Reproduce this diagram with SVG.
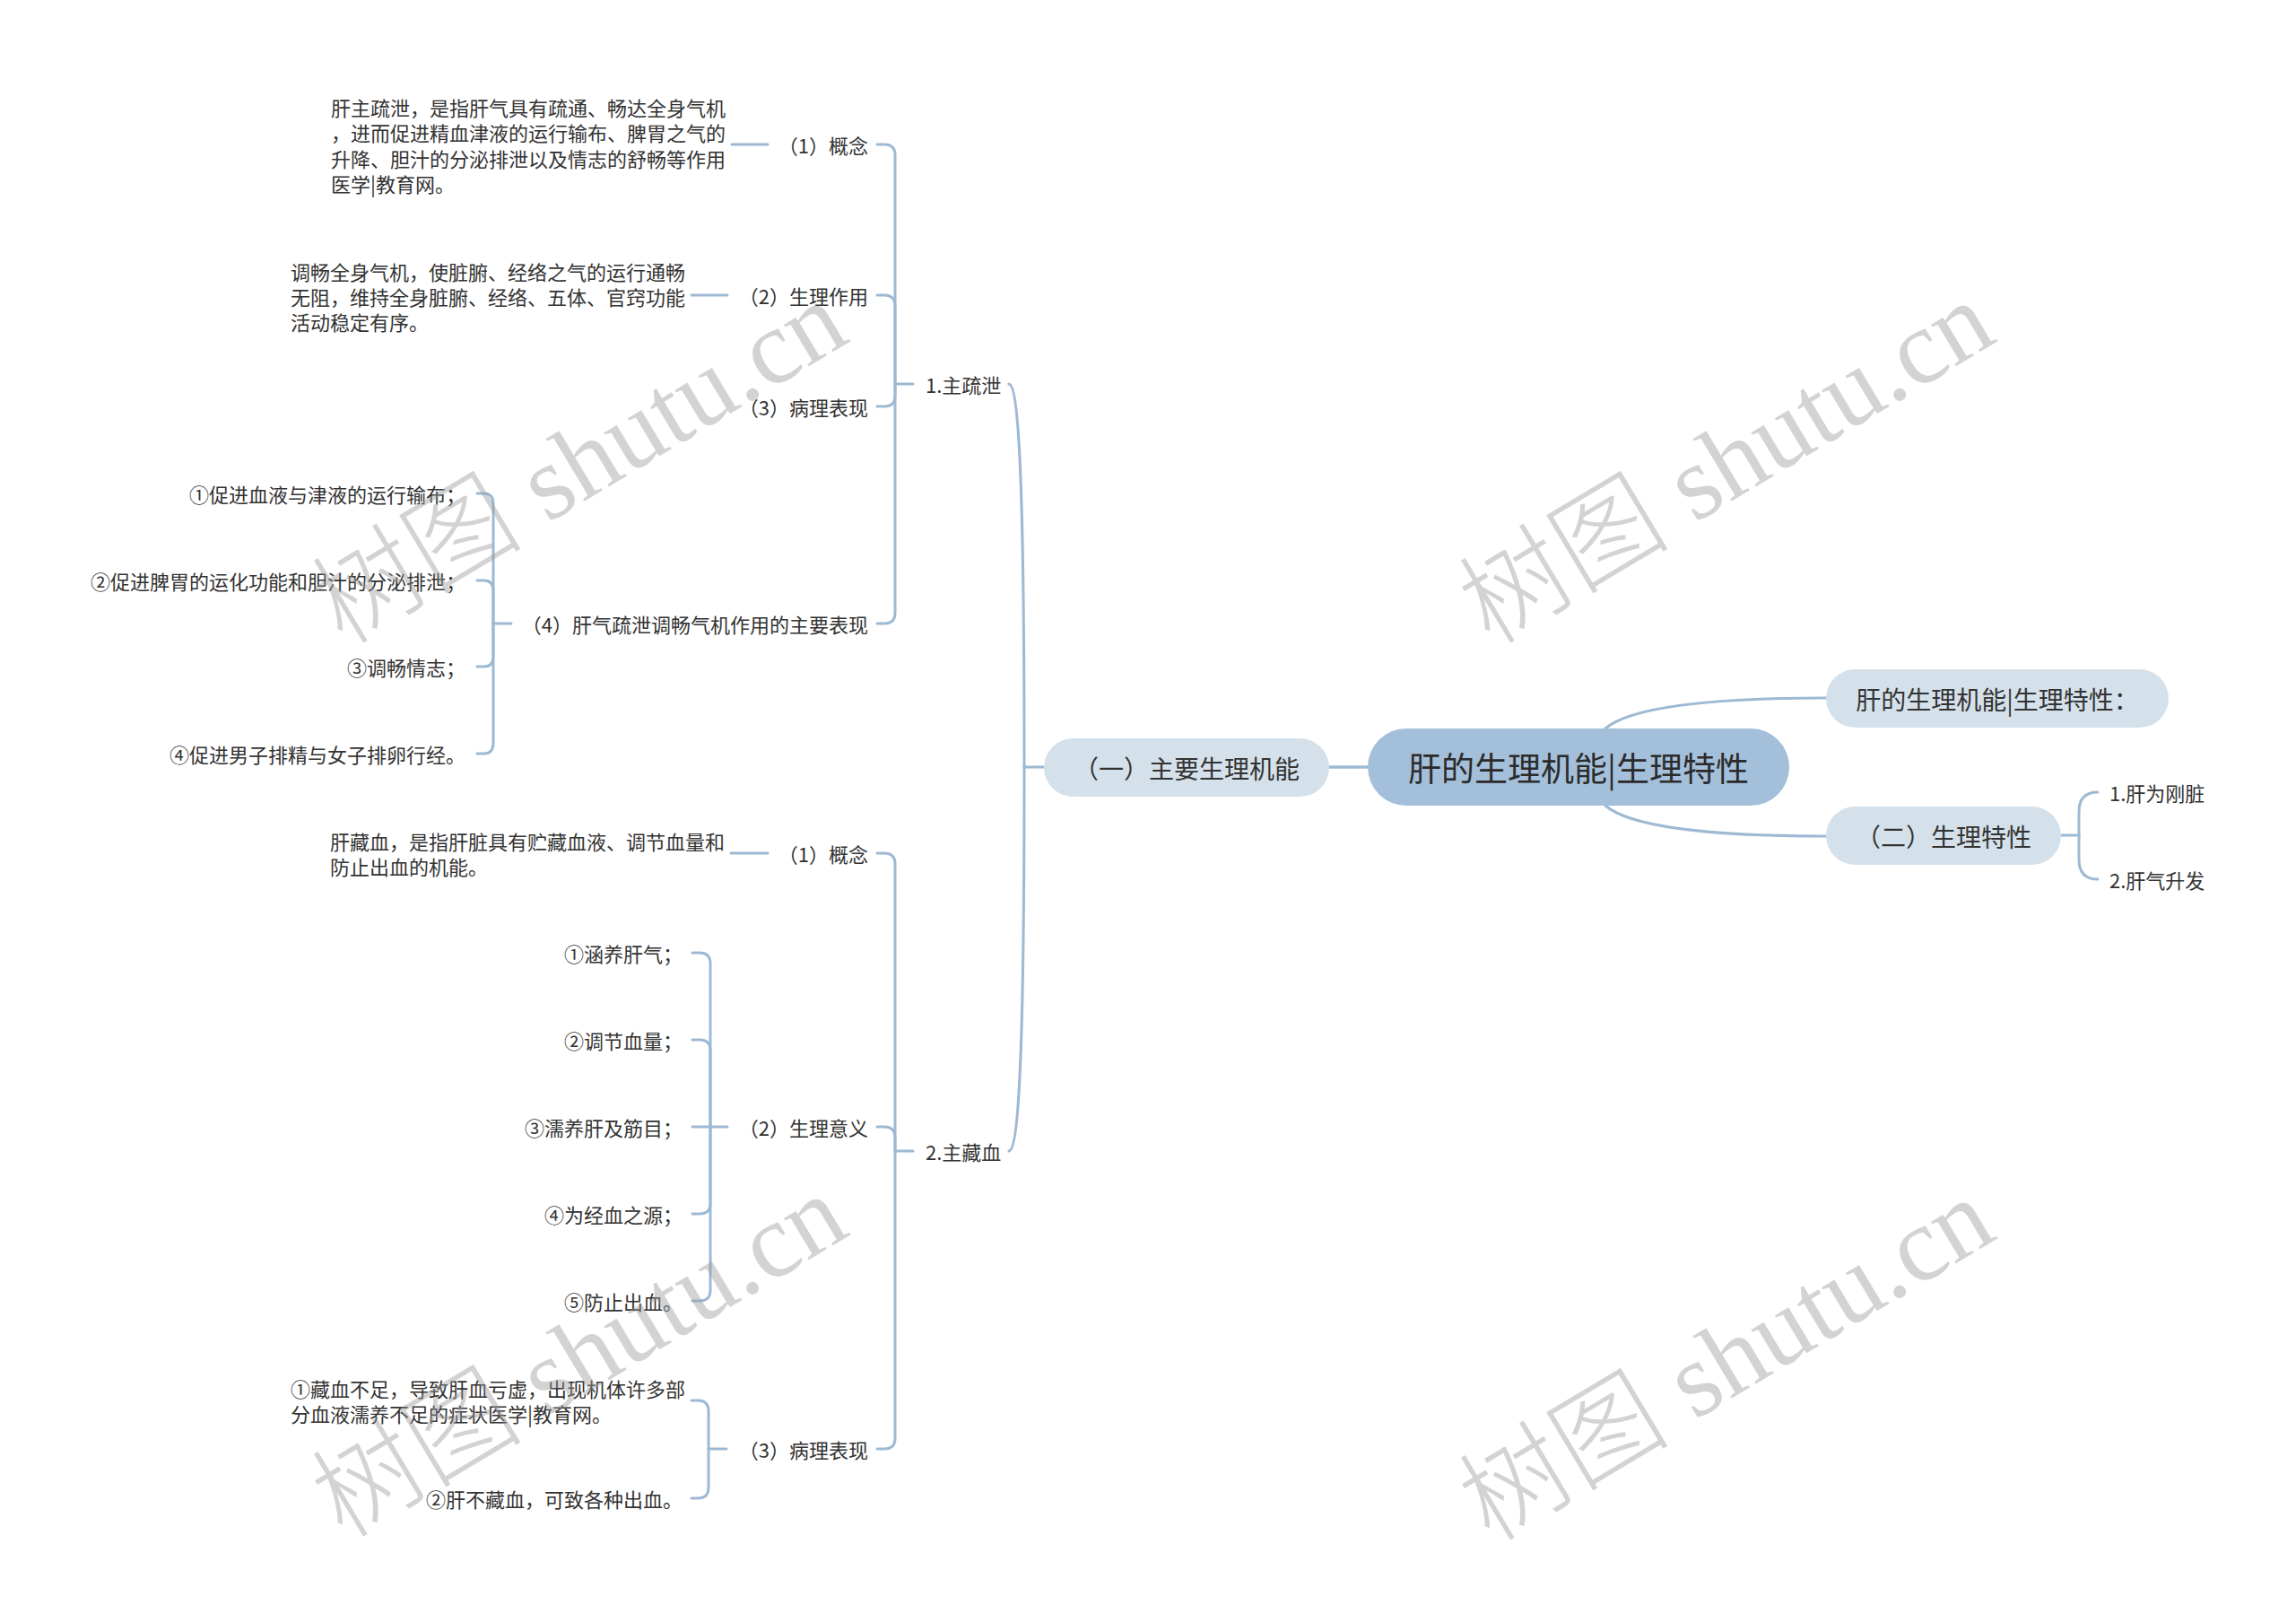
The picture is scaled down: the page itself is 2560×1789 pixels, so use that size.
<svg xmlns="http://www.w3.org/2000/svg" width="2560" height="1789" viewBox="0 0 2560 1789">
<style>
text { font-family: "Noto Sans CJK SC", "Noto Sans", sans-serif; fill: #333; dominant-baseline: central; }
.t22 { font-size: 22px; }
.t28 { font-size: 28px; }
.troot { font-size: 37px; fill: #2b2b2b; }
.l { fill: none; stroke: #9db9d3; stroke-width: 3; stroke-linecap: round; }
.lm { fill: none; stroke: #9db9d3; stroke-width: 3.5; }
.n1 { fill: #a3bfd9; }
.n2 { fill: #d5e1ea; }
.wm { font-family: "Liberation Serif", "Noto Sans CJK SC", serif; font-size: 118px; font-weight: 300; fill: #999; opacity: 0.42; text-anchor: middle; }
</style>
<rect width="2560" height="1789" fill="#ffffff"/>

<g id="connectors">
  <path class="lm" d="M1482,855 H1525"/>
  <path class="l" d="M1790,812 Q1830,778 2036,778"/>
  <path class="l" d="M1790,898 Q1830,932 2036,932"/>
  <path class="l" d="M1164,855 H1142"/>
  <path class="l" d="M1142,855 C1142,560 1137,430 1125,428"/>
  <path class="l" d="M1142,855 C1142,1150 1137,1281 1125,1283"/>
  <!-- 1.主疏泄 -->
  <path class="l" d="M1018,428 H998"/>
  <path class="l" d="M978,161 H986 Q998,161 998,173 V428"/>
  <path class="l" d="M978,329 H986 Q998,329 998,341 V428"/>
  <path class="l" d="M978,453 H986 Q998,453 998,441 V428"/>
  <path class="l" d="M978,695 H986 Q998,695 998,683 V428"/>
  <path class="l" d="M816,161 H856"/>
  <path class="l" d="M771,329 H811"/>
  <!-- (4) -->
  <path class="l" d="M570,695 H550"/>
  <path class="l" d="M532,550 H540 Q550,550 550,562 V695"/>
  <path class="l" d="M532,647 H540 Q550,647 550,659 V695"/>
  <path class="l" d="M532,743 H540 Q550,743 550,731 V695"/>
  <path class="l" d="M532,840 H540 Q550,840 550,828 V695"/>
  <!-- 2.主藏血 -->
  <path class="l" d="M1018,1283 H998"/>
  <path class="l" d="M978,951 H986 Q998,951 998,963 V1283"/>
  <path class="l" d="M978,1256 H986 Q998,1256 998,1268 V1283"/>
  <path class="l" d="M978,1615 H986 Q998,1615 998,1603 V1283"/>
  <path class="l" d="M815,951 H856"/>
  <!-- (2) 生理意义 -->
  <path class="l" d="M811,1256 H792"/>
  <path class="l" d="M772,1062 H780 Q792,1062 792,1074 V1256"/>
  <path class="l" d="M772,1159 H780 Q792,1159 792,1171 V1256"/>
  <path class="l" d="M772,1256 H792"/>
  <path class="l" d="M772,1353 H780 Q792,1353 792,1341 V1256"/>
  <path class="l" d="M772,1450 H780 Q792,1450 792,1438 V1256"/>
  <!-- (3) 病理表现 -->
  <path class="l" d="M810,1615 H790"/>
  <path class="l" d="M771,1561 H778 Q790,1561 790,1573 V1615"/>
  <path class="l" d="M771,1670 H778 Q790,1670 790,1658 V1615"/>
  <!-- (二) -->
  <path class="l" d="M2298,931 H2318"/>
  <path class="l" d="M2339,883 Q2318,883 2318,905 V931"/>
  <path class="l" d="M2339,980 Q2318,980 2318,958 V931"/>
</g>

<g id="root">
  <rect class="n1" x="1525" y="812" width="470" height="86" rx="43"/>
  <text class="troot" x="1760" y="855" text-anchor="middle">肝的生理机能|生理特性</text>
</g>

<g id="n-func">
  <rect class="n2" x="1164" y="823" width="318" height="65" rx="32.5"/>
  <text class="t28" x="1323" y="855.5" text-anchor="middle">（一）主要生理机能</text>
</g>

<g id="n-summary">
  <rect class="n2" x="2036" y="746" width="382" height="65" rx="32.5"/>
  <text class="t28" x="2227" y="778.5" text-anchor="middle">肝的生理机能|生理特性：</text>
</g>

<g id="n-feature">
  <rect class="n2" x="2036" y="899" width="262" height="65" rx="32.5"/>
  <text class="t28" x="2167" y="931.5" text-anchor="middle">（二）生理特性</text>
</g>
<g id="n-feature-1"><text class="t22" x="2352" y="883">1.肝为刚脏</text></g>
<g id="n-feature-2"><text class="t22" x="2352" y="980">2.肝气升发</text></g>

<g id="n-shuxie"><text class="t22" x="1032" y="428">1.主疏泄</text></g>
<g id="n-shuxie-1"><text class="t22" x="968" y="161" text-anchor="end">（1）概念</text></g>
<g id="n-shuxie-1-a">
  <text class="t22">
    <tspan x="369" y="119">肝主疏泄，是指肝气具有疏通、畅达全身气机</tspan>
    <tspan x="369" y="147.3">，进而促进精血津液的运行输布、脾胃之气的</tspan>
    <tspan x="369" y="175.6">升降、胆汁的分泌排泄以及情志的舒畅等作用</tspan>
    <tspan x="369" y="203.9">医学|教育网。</tspan>
  </text>
</g>
<g id="n-shuxie-2"><text class="t22" x="968" y="329" text-anchor="end">（2）生理作用</text></g>
<g id="n-shuxie-2-a">
  <text class="t22">
    <tspan x="324" y="301.5">调畅全身气机，使脏腑、经络之气的运行通畅</tspan>
    <tspan x="324" y="329.8">无阻，维持全身脏腑、经络、五体、官窍功能</tspan>
    <tspan x="324" y="358.1">活动稳定有序。</tspan>
  </text>
</g>
<g id="n-shuxie-3"><text class="t22" x="968" y="453" text-anchor="end">（3）病理表现</text></g>
<g id="n-shuxie-4"><text class="t22" x="968" y="695" text-anchor="end">（4）肝气疏泄调畅气机作用的主要表现</text></g>
<g id="n-shuxie-4-1"><text class="t22" x="519" y="550" text-anchor="end">①促进血液与津液的运行输布；</text></g>
<g id="n-shuxie-4-2"><text class="t22" x="519" y="647" text-anchor="end">②促进脾胃的运化功能和胆汁的分泌排泄；</text></g>
<g id="n-shuxie-4-3"><text class="t22" x="519" y="743" text-anchor="end">③调畅情志；</text></g>
<g id="n-shuxie-4-4"><text class="t22" x="519" y="840" text-anchor="end">④促进男子排精与女子排卵行经。</text></g>

<g id="n-cangxue"><text class="t22" x="1032" y="1283">2.主藏血</text></g>
<g id="n-cangxue-1"><text class="t22" x="968" y="951" text-anchor="end">（1）概念</text></g>
<g id="n-cangxue-1-a">
  <text class="t22">
    <tspan x="368" y="937">肝藏血，是指肝脏具有贮藏血液、调节血量和</tspan>
    <tspan x="368" y="965.3">防止出血的机能。</tspan>
  </text>
</g>
<g id="n-cangxue-2"><text class="t22" x="968" y="1256" text-anchor="end">（2）生理意义</text></g>
<g id="n-cangxue-2-1"><text class="t22" x="761" y="1062" text-anchor="end">①涵养肝气；</text></g>
<g id="n-cangxue-2-2"><text class="t22" x="761" y="1159" text-anchor="end">②调节血量；</text></g>
<g id="n-cangxue-2-3"><text class="t22" x="761" y="1256" text-anchor="end">③濡养肝及筋目；</text></g>
<g id="n-cangxue-2-4"><text class="t22" x="761" y="1353" text-anchor="end">④为经血之源；</text></g>
<g id="n-cangxue-2-5"><text class="t22" x="761" y="1450" text-anchor="end">⑤防止出血。</text></g>
<g id="n-cangxue-3"><text class="t22" x="968" y="1615" text-anchor="end">（3）病理表现</text></g>
<g id="n-cangxue-3-1">
  <text class="t22">
    <tspan x="324" y="1546.5">①藏血不足，导致肝血亏虚，出现机体许多部</tspan>
    <tspan x="324" y="1574.8">分血液濡养不足的症状医学|教育网。</tspan>
  </text>
</g>
<g id="n-cangxue-3-2"><text class="t22" x="761" y="1670" text-anchor="end">②肝不藏血，可致各种出血。</text></g>

<g id="watermarks">
  <text class="wm" transform="translate(646,516) rotate(-31)" x="0" y="0">树图 shutu.cn</text>
  <text class="wm" transform="translate(1925,516) rotate(-31)" x="0" y="0">树图 shutu.cn</text>
  <text class="wm" transform="translate(646,1512) rotate(-31)" x="0" y="0">树图 shutu.cn</text>
  <text class="wm" transform="translate(1925,1516) rotate(-31)" x="0" y="0">树图 shutu.cn</text>
</g>
</svg>
